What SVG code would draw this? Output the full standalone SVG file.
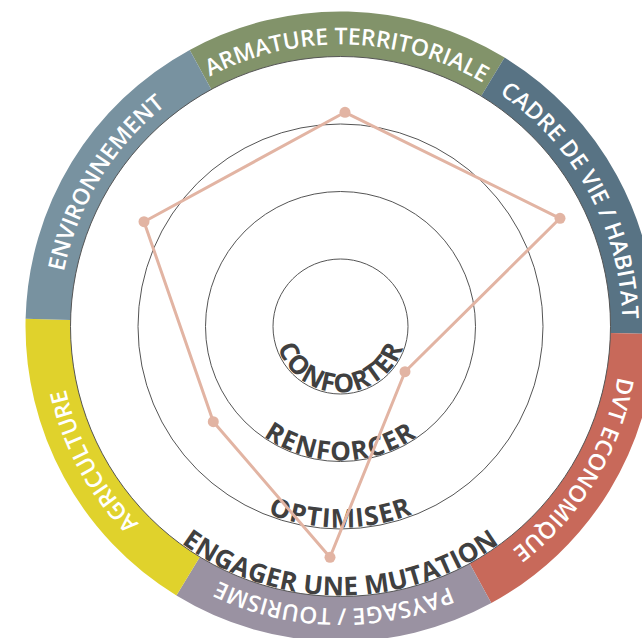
<svg xmlns="http://www.w3.org/2000/svg" width="642" height="638" viewBox="0 0 642 638">
<style>
.ring{fill:none;stroke:#555;stroke-width:1}
.lvl{font-family:"Open Sans","DejaVu Sans",sans-serif;font-weight:700;font-size:26px;fill:#404040}
.seg-label{font-family:"Open Sans","DejaVu Sans",sans-serif;font-weight:600;font-size:23px;fill:#ffffff}
.radar{fill:none;stroke:#E2B4A3;stroke-width:3;stroke-linejoin:round}
.dot{fill:#E2B4A3}
</style>
<defs>
<path id="pArm" d="M77.9,223.6 A282,282 0 0 1 607.8,236.5"/>
<path id="pCadre" d="M298.3,47.7 A282,282 0 0 1 552.0,513.0"/>
<path id="pDvt" d="M560.9,150.6 A282,282 0 0 1 284.8,602.9"/>
<path id="pPays" d="M603.1,429.4 A282,282 0 0 1 73.2,416.5"/>
<path id="pAgri" d="M382.7,605.3 A282,282 0 0 1 129.0,140.0"/>
<path id="pEnv" d="M120.1,502.4 A282,282 0 0 1 396.2,50.1"/>
<path id="pL1" d="M274.5,326.5 A66,66 0 0 0 406.5,326.5"/>
<path id="pL2" d="M206.5,326.5 A134,134 0 0 0 474.5,326.5"/>
<path id="pL3" d="M139.5,326.5 A201,201 0 0 0 541.5,326.5"/>
<path id="pL4" d="M71.5,326.5 A269,269 0 0 0 609.5,326.5"/>
</defs>
<rect width="642" height="638" fill="#ffffff"/>

<g id="armature">
<path d="M189.7,49.9 A315,315 0 0 1 504.6,57.6 L481.2,96.1 A270,270 0 0 0 211.3,89.4 Z" fill="#82936A"/>
<text class="seg-label"><textPath href="#pArm" startOffset="50%" text-anchor="middle">ARMATURE TERRITORIALE</textPath></text>
</g>
<g id="cadre">
<path d="M504.6,57.6 A315,315 0 0 1 655.4,334.2 L610.4,333.1 A270,270 0 0 0 481.2,96.1 Z" fill="#587384"/>
<text class="seg-label"><textPath href="#pCadre" startOffset="50%" text-anchor="middle">CADRE DE VIE / HABITAT</textPath></text>
</g>
<g id="dvt">
<path d="M655.4,334.2 A315,315 0 0 1 491.3,603.1 L469.7,563.6 A270,270 0 0 0 610.4,333.1 Z" fill="#C8695A"/>
<text class="seg-label"><textPath href="#pDvt" startOffset="50%" text-anchor="middle">DVT ECONOMIQUE</textPath></text>
</g>
<g id="paysage">
<path d="M491.3,603.1 A315,315 0 0 1 176.4,595.4 L199.8,556.9 A270,270 0 0 0 469.7,563.6 Z" fill="#9A92A2"/>
<text class="seg-label"><textPath href="#pPays" startOffset="50%" text-anchor="middle">PAYSAGE / TOURISME</textPath></text>
</g>
<g id="agriculture">
<path d="M176.4,595.4 A315,315 0 0 1 25.6,318.8 L70.6,319.9 A270,270 0 0 0 199.8,556.9 Z" fill="#E0D22C"/>
<text class="seg-label"><textPath href="#pAgri" startOffset="50%" text-anchor="middle">AGRICULTURE</textPath></text>
</g>
<g id="environnement">
<path d="M25.6,318.8 A315,315 0 0 1 189.7,49.9 L211.3,89.4 A270,270 0 0 0 70.6,319.9 Z" fill="#7892A0"/>
<text class="seg-label"><textPath href="#pEnv" startOffset="50%" text-anchor="middle">ENVIRONNEMENT</textPath></text>
</g>

<g id="level-conforter">
<circle class="ring" cx="340.5" cy="326.5" r="67.5"/>
<text class="lvl" letter-spacing="0.8"><textPath href="#pL1" startOffset="50%" text-anchor="middle">CONFORTER</textPath></text>
</g>
<g id="level-renforcer">
<circle class="ring" cx="340.5" cy="326.5" r="135"/>
<text class="lvl" letter-spacing="1.2"><textPath href="#pL2" startOffset="50%" text-anchor="middle">RENFORCER</textPath></text>
</g>
<g id="level-optimiser">
<circle class="ring" cx="340.5" cy="326.5" r="202.5"/>
<text class="lvl" letter-spacing="1"><textPath href="#pL3" startOffset="50%" text-anchor="middle">OPTIMISER</textPath></text>
</g>
<g id="level-mutation">
<circle class="ring" cx="340.5" cy="326.5" r="270" stroke-width="0.8"/>
<text class="lvl" letter-spacing="0.3"><textPath href="#pL4" startOffset="50%" text-anchor="middle">ENGAGER UNE MUTATION</textPath></text>
</g>

<g id="connectors">
<polygon class="radar" points="345,112.3 560,218.3 405,371.7 330,557.3 213.3,421.7 144,221.7"/>
<circle class="dot" cx="345" cy="112.3" r="5.5"/>
<circle class="dot" cx="560" cy="218.3" r="5.5"/>
<circle class="dot" cx="405" cy="371.7" r="5.5"/>
<circle class="dot" cx="330" cy="557.3" r="5.5"/>
<circle class="dot" cx="213.3" cy="421.7" r="5.5"/>
<circle class="dot" cx="144" cy="221.7" r="5.5"/>
</g>
</svg>
